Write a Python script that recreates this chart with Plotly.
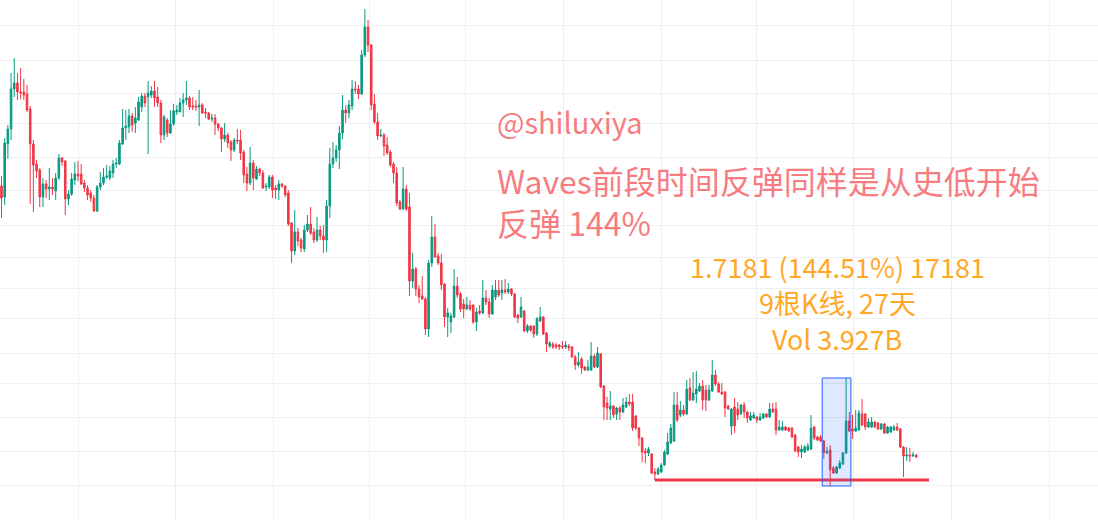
import pandas as pd
import plotly.graph_objects as go

# ---- data: 3-day candles (price index units) ----
opn = [334,323,376,391,431,437,428,428,426,411,376,356,350,323,336,331,333,329,342,362,
       359,321,326,340,346,346,337,332,327,322,309,333,337,343,342,347,356,356,376,392,
       393,404,397,400,413,424,423,425,429,423,417,385,400,387,396,408,408,417,420,422,
       414,414,413,415,408,407,401,402,396,392,381,385,378,370,380,380,368,346,337,357,
       341,351,347,333,333,343,332,330,336,334,327,297,269,288,280,271,290,296,288,280,
       290,284,280,314,356,362,370,387,410,407,414,431,431,426,465,493,475,416,398,384,
       385,375,368,356,347,318,311,331,313,239,251,231,224,221,191,257,283,264,257,236,
       203,198,203,234,226,216,211,215,215,198,209,207,222,218,206,223,230,227,230,228,
       231,226,205,203,209,189,194,194,186,199,203,187,174,176,175,175,174,173,174,173,
       163,155,161,153,150,150,164,153,166,134,117,111,114,106,112,108,113,118,118,104,
       92,82,69,67,66,48,46,48,55,66,77,79,115,105,110,106,132,120,126,129,
       134,130,120,129,145,136,128,128,114,94,113,111,106,115,108,100,102,103,100,102,
       106,103,111,111,90,90,93,92,92,85,73,68,68,70,71,93,83,83,79,67,
       70,52,47,52,56,67,99,91,89,90,106,106,93,93,98,97,91,96,87,88,
       90,93,91,73,64,65,64,65]
high = [344,382,395,447,462,447,452,441,435,414,380,360,352,342,340,352,342,347,366,363,
        360,330,347,358,359,356,340,335,330,325,335,348,352,355,354,360,362,380,411,410,
        411,407,413,423,427,427,439,434,439,433,420,405,402,410,416,415,422,427,439,424,
        423,420,430,417,412,408,406,406,397,393,397,387,380,382,391,390,370,353,373,360,
        354,352,350,337,345,345,335,340,337,335,330,298,310,292,282,295,305,313,292,303,
        294,295,320,372,378,375,394,425,415,420,440,439,435,470,511,500,476,426,407,391,
        387,383,370,358,353,320,353,335,327,267,253,235,244,223,260,304,296,267,266,237,
        212,207,251,243,228,221,223,220,216,212,215,240,230,222,235,240,240,240,241,237,
        232,227,206,223,210,196,195,195,203,213,204,188,179,178,177,176,179,179,176,174,
        165,168,163,154,160,178,166,173,167,135,123,129,115,113,114,122,123,126,126,105,
        93,83,72,73,67,52,53,57,70,87,96,128,128,119,115,140,142,148,149,137,
        140,135,135,160,150,138,137,129,115,112,122,118,116,118,109,108,108,104,107,107,
        107,117,117,118,100,99,94,93,93,86,74,75,75,77,105,94,84,85,80,73,
        75,54,54,60,68,142,108,105,110,110,121,107,102,103,99,98,97,97,94,94,
        95,97,92,74,73,72,68,66]
low = [302,315,361,380,423,420,421,420,408,316,308,342,313,313,322,320,325,320,340,354,
       305,315,324,335,339,335,328,320,318,308,308,330,335,341,340,342,352,355,375,380,
       387,388,387,399,408,413,366,422,413,413,377,380,383,386,394,405,408,403,415,410,
       410,409,394,406,402,400,398,385,389,368,378,372,359,368,376,360,337,329,335,330,
       340,344,331,329,331,322,321,320,332,323,294,257,265,274,268,268,288,285,277,278,
       280,267,268,302,352,358,351,381,397,402,410,426,421,425,463,468,410,396,380,383,
       364,365,353,337,314,310,310,309,224,232,224,217,220,185,183,253,262,255,230,193,
       183,187,202,222,208,202,210,209,196,189,205,206,215,202,205,220,223,220,226,226,
       224,202,197,202,188,187,188,182,184,198,185,168,172,171,171,170,171,171,169,162,
       150,153,146,149,149,149,152,152,132,100,100,100,102,100,100,107,112,114,89,90,
       74,58,57,64,46,40,45,47,54,65,76,78,98,103,104,105,119,119,117,128,
       110,109,119,128,134,127,125,103,110,85,87,100,105,102,97,99,101,97,99,101,
       102,102,107,85,89,89,89,88,82,68,63,62,67,69,70,80,79,78,61,66,
       34,46,46,51,55,66,88,81,88,89,94,90,92,92,92,90,90,86,86,87,
       89,89,72,43,59,58,63,62]
cls = [322,377,391,431,437,428,427,425,410,376,355,349,323,336,331,333,331,342,362,358,
       321,326,341,346,344,336,332,325,322,309,333,337,343,344,349,356,357,377,392,394,
       404,395,402,418,424,417,427,429,422,417,385,403,387,396,409,410,417,420,422,413,
       413,413,415,407,407,401,402,396,392,381,385,377,370,380,379,367,345,337,357,342,
       351,347,332,334,343,330,330,336,334,325,296,269,288,279,272,290,296,287,280,290,
       284,280,314,356,362,370,387,410,407,415,431,430,426,465,493,475,415,398,384,385,
       374,367,355,347,317,311,331,311,239,251,231,223,221,191,257,283,263,257,235,203,
       207,204,234,225,211,211,215,211,198,208,207,222,218,206,230,230,225,230,228,231,
       226,203,202,213,189,194,190,186,201,203,186,176,177,173,173,173,173,175,172,163,
       155,158,152,150,153,164,153,167,133,113,112,114,105,112,108,115,118,116,92,92,
       82,68,67,71,47,46,51,55,68,78,92,115,100,110,106,131,120,127,131,134,
       120,120,130,145,136,128,126,112,111,111,94,105,115,108,102,104,105,100,103,106,
       103,111,108,90,93,93,90,89,83,69,68,71,73,74,92,82,80,79,67,69,
       50,47,53,57,67,99,89,89,92,107,95,93,98,98,93,91,96,87,93,93,
       93,90,73,64,65,64,65,63]

start_date = "2021-04-20"
bar_days = 3
dates = pd.date_range(start_date, periods=len(cls), freq=f"{bar_days}D")

# horizontal price grid levels and indices of annotated bars
grid_levels = [495, 459.3, 426.7, 396.7, 362.7, 329.3, 294.7, 262.7, 231.5,
               201.7, 166.7, 136.7, 102.7, 69, 34.3]
support_bar = 205          # bar whose low defines the red support line
range_first, range_last = 258, 266   # 9 bars measured
range_low_bar, range_high_bar = 260, 265

GREEN = "#089981"
RED = "#F23645"

fig = go.Figure()
fig.add_trace(go.Candlestick(
    x=dates, open=opn, high=high, low=low, close=cls,
    increasing=dict(line=dict(color=GREEN, width=1), fillcolor=GREEN),
    decreasing=dict(line=dict(color=RED, width=1), fillcolor=RED),
    whiskerwidth=0, showlegend=False, hoverinfo="skip"))

half = pd.Timedelta(days=bar_days / 2)
# measured range box
fig.add_shape(type="rect", xref="x", yref="y",
              x0=dates[range_first] - half, x1=dates[range_last] + half,
              y0=low[range_low_bar], y1=high[range_high_bar],
              fillcolor="rgba(41,98,255,0.15)", line=dict(color="#2962FF", width=1),
              layer="above")
# support line
line_end = dates[-1] + pd.Timedelta(days=bar_days * 4)
fig.add_trace(go.Scatter(x=[dates[support_bar], line_end],
                         y=[low[support_bar], low[support_bar]],
                         mode="lines", line=dict(color=RED, width=3),
                         showlegend=False, hoverinfo="skip"))

W, H = 1098, 520
FONT = "Noto Sans CJK SC, Open Sans, sans-serif"
PINK = "#F77C80"
ORANGE = "#FFA726"

def ann(text, px, py, size, color, xanchor="left", yanchor="top", align="left"):
    fig.add_annotation(text=text, xref="paper", yref="paper",
                       x=px / W, y=1 - py / H, xanchor=xanchor, yanchor=yanchor,
                       showarrow=False, align=align,
                       font=dict(family=FONT, size=size, color=color))

ann("@shiluxiya", 495, 98, 29, PINK)
ann("Waves前段时间反弹同样是从史低开始<br>反弹 144%", 495, 155, 32, PINK)
ann("1.7181 (144.51%) 17181", 837, 266.5, 27, ORANGE, "center", "middle", "center")
ann("9根K线, 27天", 837, 302.5, 27, ORANGE, "center", "middle", "center")
ann("Vol 3.927B", 837, 338.5, 27, ORANGE, "center", "middle", "center")

GRID = "#EDEFF2"
fig.update_layout(
    width=W, height=H, margin=dict(l=0, r=0, t=0, b=0),
    paper_bgcolor="white", plot_bgcolor="white",
    xaxis=dict(type="date", range=["2021-04-18 14:00", "2024-02-16 02:00"],
               rangeslider=dict(visible=False), showticklabels=False,
               showgrid=True, gridcolor=GRID, gridwidth=1,
               tick0="2021-07-01", dtick="M3", ticks="", zeroline=False,
               showline=False),
    yaxis=dict(range=[0, 520], tickmode="array", tickvals=grid_levels,
               showticklabels=False, showgrid=True, gridcolor=GRID,
               gridwidth=1, zeroline=False, ticks="", showline=False),
)

fig.write_html("out.html", config={"displayModeBar": False},
               post_script="document.body.style.margin='0';document.body.style.overflow='hidden';")
